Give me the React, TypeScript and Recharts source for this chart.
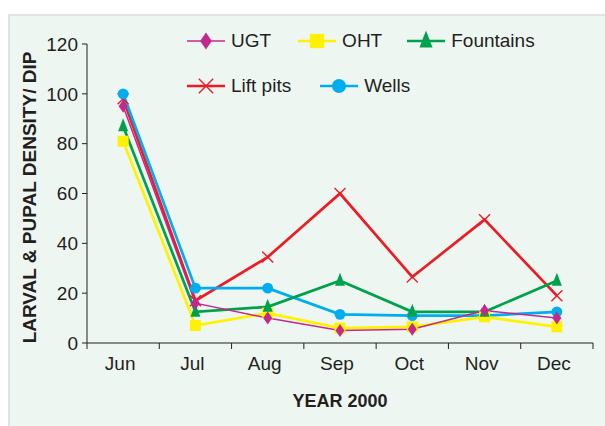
import React from 'react';
import { LineChart, Line, XAxis, YAxis, Legend } from 'recharts';

const months = ['Jun', 'Jul', 'Aug', 'Sep', 'Oct', 'Nov', 'Dec'];
const ugt = [95, 16, 10, 5, 5.5, 13, 10];
const oht = [81, 7, 12, 6, 6.5, 10.5, 6.5];
const fountains = [87, 12.5, 14.5, 25, 12.5, 12.5, 25];
const liftPits = [98, 17, 34.5, 60, 26.5, 49.5, 19];
const wells = [100, 22, 22, 11.5, 11, 11, 12.5];
const yTicks = [0, 20, 40, 60, 80, 100, 120];

const data = months.map((m, i) => ({
  month: m,
  UGT: ugt[i],
  OHT: oht[i],
  Fountains: fountains[i],
  'Lift pits': liftPits[i],
  Wells: wells[i],
}));

type Kind = 'diamond' | 'square' | 'triangle' | 'cross' | 'circle';

const series: { key: string; color: string; width: number; kind: Kind }[] = [
  { key: 'UGT', color: '#c4288f', width: 1.5, kind: 'diamond' },
  { key: 'OHT', color: '#fff200', width: 2.7, kind: 'square' },
  { key: 'Fountains', color: '#00a14b', width: 2.7, kind: 'triangle' },
  { key: 'Lift pits', color: '#ed1c24', width: 2.7, kind: 'cross' },
  { key: 'Wells', color: '#00aeef', width: 2.7, kind: 'circle' },
];

// draw order: later on top
const drawOrder = ['Lift pits', 'Wells', 'OHT', 'Fountains', 'UGT'];

const font = '"Liberation Sans", Arial, sans-serif';
const ink = '#231f20';

function marker(kind: Kind, cx: number, cy: number, color: string, key?: React.Key, k = 1) {
  switch (kind) {
    case 'diamond':
      return (
        <polygon
          key={key}
          points={`${cx},${cy - 6.5 * k} ${cx + 4.5 * k},${cy} ${cx},${cy + 6.5 * k} ${cx - 4.5 * k},${cy}`}
          fill={color}
        />
      );
    case 'square':
      return <rect key={key} x={cx - 5.5 * k} y={cy - 5.5 * k} width={11 * k} height={11 * k} fill={color} />;
    case 'triangle':
      return (
        <polygon
          key={key}
          points={`${cx},${cy - 8 * k} ${cx + 5 * k},${cy + 5 * k} ${cx - 5 * k},${cy + 5 * k}`}
          fill={color}
        />
      );
    case 'cross':
      return (
        <g key={key} stroke={color} strokeWidth={1.4}>
          <line x1={cx - 5.5 * k} y1={cy - 5.5 * k} x2={cx + 5.5 * k} y2={cy + 5.5 * k} />
          <line x1={cx - 5.5 * k} y1={cy + 5.5 * k} x2={cx + 5.5 * k} y2={cy - 5.5 * k} />
        </g>
      );
    default:
      return <circle key={key} cx={cx} cy={cy} r={5.4 * k} fill={color} />;
  }
}

// month label at band centre, tick marks at band edges
function MonthTick(props: any) {
  const { x, y, payload, index, visibleTicksCount } = props;
  const half = payload.offset || 0;
  const last = index === visibleTicksCount - 1;
  return (
    <g>
      <line x1={x - half} y1={y} x2={x - half} y2={y + 6} stroke={ink} />
      {last && <line x1={x + half} y1={y} x2={x + half} y2={y + 6} stroke={ink} />}
      <text x={x - 3} y={y + 27} textAnchor="middle" fill={ink} fontSize={19} fontFamily={font}>
        {payload.value}
      </text>
    </g>
  );
}

function YLabel(props: any) {
  const vb = props.viewBox;
  const cx = vb.x + 29;
  const cy = vb.y + vb.height / 2 + 4;
  return (
    <text
      x={cx}
      y={cy}
      transform={`rotate(-90, ${cx}, ${cy})`}
      textAnchor="middle"
      dominantBaseline="central"
      fill={ink}
      fontSize={19}
      fontWeight="bold"
      fontFamily={font}
    >
      LARVAL &amp; PUPAL DENSITY/ DIP
    </text>
  );
}

function LegendItem({ name, gap }: { name: string; gap: number }) {
  const s = series.find((x) => x.key === name)!;
  return (
    <div style={{ display: 'flex', alignItems: 'center', marginRight: gap }}>
      <svg width={40} height={22} style={{ display: 'block' }}>
        <line x1={1} y1={11} x2={39} y2={11} stroke={s.color} strokeWidth={s.width} />
        {marker(s.kind, 20, 11, s.color, undefined, 1.3)}
      </svg>
      <span style={{ marginLeft: 5, fontSize: 19, color: ink, fontFamily: font }}>{name}</span>
    </div>
  );
}

function ChartLegend() {
  return (
    <div style={{ display: 'flex', flexDirection: 'column', gap: 21 }}>
      <div style={{ display: 'flex', height: 24, alignItems: 'center' }}>
        <LegendItem name="UGT" gap={26} />
        <LegendItem name="OHT" gap={24} />
        <LegendItem name="Fountains" gap={0} />
      </div>
      <div style={{ display: 'flex', height: 24, alignItems: 'center' }}>
        <LegendItem name="Lift pits" gap={28} />
        <LegendItem name="Wells" gap={0} />
      </div>
    </div>
  );
}

export default function App() {
  return (
    <div style={{ position: 'absolute', left: 0, top: 0, width: 605, height: 426, overflow: 'hidden' }}>
      <div
        style={{
          position: 'absolute',
          left: 8,
          top: 14,
          width: 597,
          height: 412,
          boxSizing: 'border-box',
          background: '#eef6f2',
          borderTop: '2px solid #e1e3e2',
          borderLeft: '2px solid #e1e3e2',
        }}
      />
      <div style={{ position: 'absolute', left: 0, top: 0 }}>
        <LineChart width={605} height={426} data={data} margin={{ top: 44, right: 12, bottom: 17, left: 0 }}>
          <XAxis
            dataKey="month"
            scale="band"
            height={66}
            axisLine={{ stroke: ink }}
            tickLine={false}
            tickSize={0}
            tickMargin={0}
            tick={<MonthTick />}
            interval={0}
            label={{
              value: 'YEAR 2000',
              position: 'insideBottom',
              offset: 2,
              style: { fill: ink, fontSize: 18, fontWeight: 'bold', fontFamily: font },
            }}
          />
          <YAxis
            width={87}
            domain={[0, 120]}
            ticks={yTicks}
            interval={0}
            axisLine={{ stroke: ink }}
            tickLine={{ stroke: ink }}
            tickSize={5}
            tickMargin={4}
            tick={{ fill: ink, fontSize: 19, fontFamily: font }}
            label={{ content: (p: any) => <YLabel {...p} /> }}
          />
          <Legend
            layout="horizontal"
            verticalAlign="middle"
            content={() => <ChartLegend />}
            wrapperStyle={{ position: 'absolute', left: 186, top: 29, width: 'auto' }}
          />
          {drawOrder.map((name) => {
            const s = series.find((x) => x.key === name)!;
            return (
              <Line
                key={s.key}
                dataKey={s.key}
                stroke={s.color}
                strokeWidth={s.width}
                isAnimationActive={false}
                dot={(p: any) => marker(s.kind, p.cx, p.cy, s.color, `${s.key}-${p.index}`)}
                activeDot={false}
              />
            );
          })}
        </LineChart>
      </div>
    </div>
  );
}
